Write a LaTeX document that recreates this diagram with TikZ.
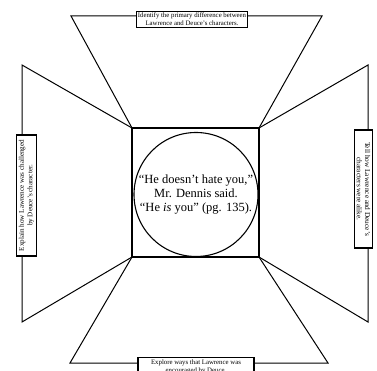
\documentclass[tikz,border=0pt]{standalone}
\usepackage{fontspec}
\setmainfont{Liberation Serif}
\usetikzlibrary{positioning}

\begin{document}
\begin{tikzpicture}[
  x=1pt, y=-1pt,
  frame/.style={line width=2.4pt},
  wing/.style={line width=1pt},
  prompt/.style={draw, line width=1.4pt, fill=white, inner sep=1.6pt,
                 align=center, font=\fontsize{6.8}{8.2}\selectfont},
  quotering/.style={circle, draw, line width=1.1pt, minimum size=124pt,
                    inner sep=0pt, align=center,
                    font=\fontsize{12.5}{14.2}\selectfont}]

\useasboundingbox (0,0) rectangle (377,371);

% ================= the central square =====================================
\coordinate (tl) at (132,128);
\coordinate (tr) at (259,128);
\coordinate (bl) at (132,257);
\coordinate (br) at (259,257);

% ================= the four wings ==========================================
\coordinate (t1) at ( 71, 16);
\coordinate (t2) at (322, 16);
\coordinate (b1) at ( 70,363);
\coordinate (b2) at (328,363);
\coordinate (l1) at ( 22, 65);
\coordinate (l2) at ( 22,322);
\coordinate (r1) at (368, 65);
\coordinate (r2) at (368,322);

\draw[wing] (tl)--(t1)--(t2)--(tr);
\draw[wing] (bl)--(b1)--(b2)--(br);
\draw[wing] (tl)--(l1)--(l2)--(bl);
\draw[wing] (tr)--(r1)--(r2)--(br);

\draw[frame] (tl) rectangle (br);

\node[quotering] (quote) at (196,194.5)
  {``He doesn't hate you,''\\ Mr. Dennis said.\\ ``He \textit{is} you'' (pg. 135).};

% ================= the prompt boxes ========================================
\node[prompt] (ptop) at (192,19.5)
  {Identify the primary difference between\\ Lawrence and Deuce's characters.};
\node[prompt, anchor=north, minimum width=116pt] (pbottom) at (196,357)
  {Explore ways that Lawrence was\\ encouraged by Deuce.};
\node[prompt, rotate=90, minimum width=121pt, minimum height=20pt,
      font=\fontsize{7.1}{8.4}\selectfont] (pleft) at (26.5,195.5)
  {Explain how Lawrence was challenged\\ by Deuce's character.};
\node[prompt, rotate=-90, minimum width=118pt, minimum height=18pt,
      font=\fontsize{7.3}{8.4}\selectfont] (pright) at (363.5,189)
  {Tell how Lawrence and Deuce's\\ characters were alike.};

\end{tikzpicture}
\end{document}
